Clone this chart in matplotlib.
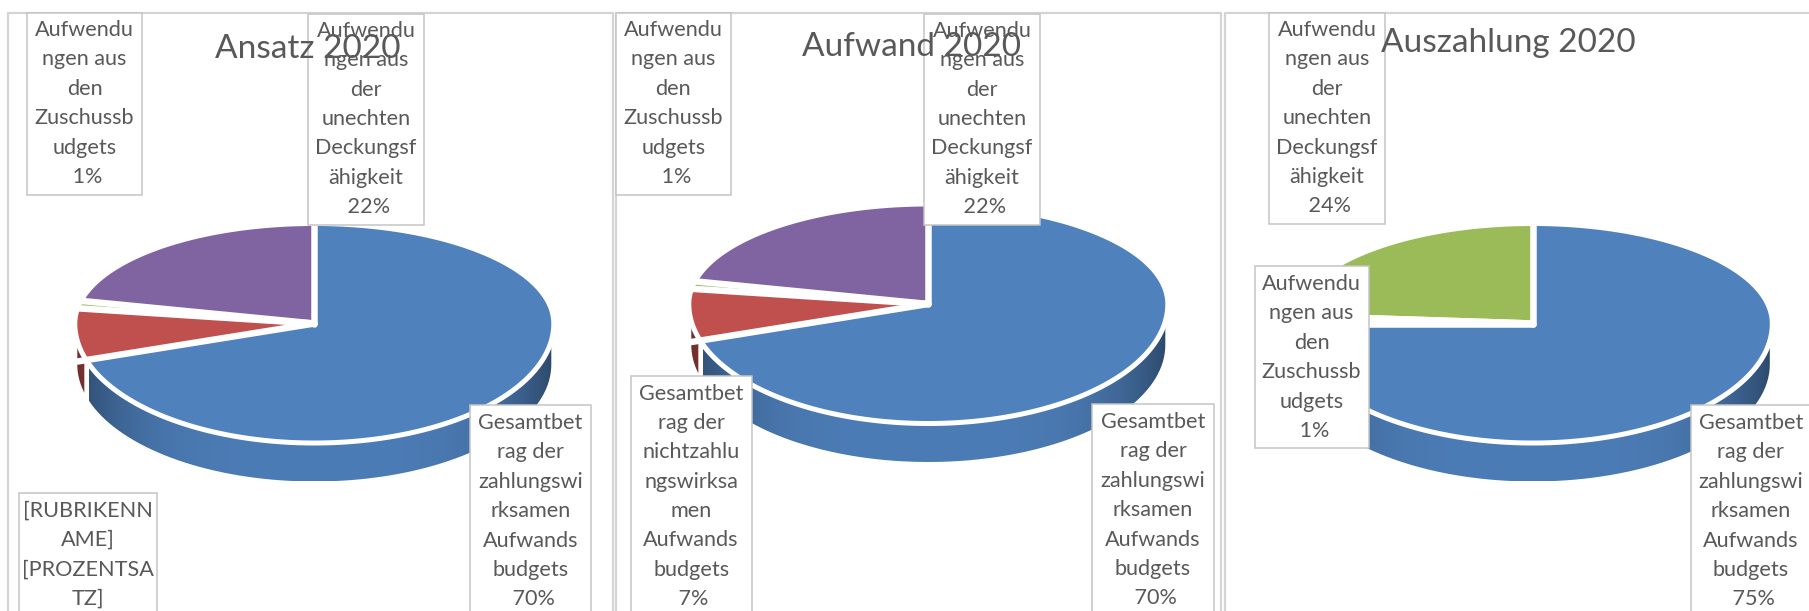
import numpy as np
import matplotlib
matplotlib.use("Agg")
import matplotlib.pyplot as plt
from matplotlib.patches import Polygon, Rectangle

plt.rcParams['font.family'] = ['Lato', 'DejaVu Sans']

titles = ['Ansatz 2020', 'Aufwand 2020', 'Auszahlung 2020']

ansatz_values = [70, 7, 1, 22]
aufwand_values = [70, 7, 1, 22]
auszahlung_values = [75, 1, 0, 24]
slice_colors = ['#4f81bd', '#c0504d', '#9bbb59', '#8064a2']
auszahlung_colors = ['#4f81bd', '#c0504d', '#8064a2', '#9bbb59']

label_zuschuss = ['Aufwendu', 'ngen aus', 'den', 'Zuschussb', 'udgets']
label_unecht = ['Aufwendu', 'ngen aus', 'der', 'unechten', 'Deckungsf', 'ähigkeit']
label_gesamt = ['Gesamtbet', 'rag der', 'zahlungswi', 'rksamen', 'Aufwands', 'budgets']
label_nicht = ['Gesamtbet', 'rag der', 'nichtzahlu', 'ngswirksa', 'men', 'Aufwands', 'budgets']
label_raw = ['[RUBRIKENN', 'AME]', '[PROZENTSA', 'TZ]']

# pixel layout of each panel
frames = [(8, 613), (616, 1221), (1224.5, 1830)]
apexes = [(314.3, 323.5), (928.3, 304), (1532.8, 323.5)]
title_pos = [(308, 49.5), (911, 46.8), (1508, 43)]

# box: left, right, top, bottom, first text line centre, lines, percent
boxes = [
    [(27.3, 141.6, 12.5, 195, 28, label_zuschuss, '1%'),
     (308, 424, 13.6, 225, 28.8, label_unecht, '22%'),
     (470, 591, 405, 640, 421, label_gesamt, '70%'),
     (19.4, 157, 493, 640, 508.6, label_raw, None)],
    [(616, 730.6, 12.5, 195, 28, label_zuschuss, '1%'),
     (924, 1040, 13.6, 225, 28.8, label_unecht, '22%'),
     (1092, 1214, 404, 640, 420, label_gesamt, '70%'),
     (630.6, 751.6, 376, 640, 391.5, label_nicht, '7%')],
    [(1254.7, 1368.5, 266, 448, 282, label_zuschuss, '1%'),
     (1269, 1385, 12.5, 224, 28, label_unecht, '24%'),
     (1690.5, 1811, 405, 640, 421, label_gesamt, '75%')],
]

RX = 237
RY_TOP = 97.5
RY_BOT = 117
DEPTH = 41
GAP = 6.5
WARP = np.radians(6.7)  # perspective squeeze of the far half
PX = 0.72
text_color = '#595959'


def rim(cx, cy, theta):
    theta = np.where(np.cos(theta) > 0, theta - WARP * np.sin(2 * theta), theta)
    c = np.cos(theta)
    ry = np.where(c > 0, RY_TOP, RY_BOT)
    return cx + RX * np.sin(theta), cy - ry * c


def draw_wall(ax, cx, cy, a, b, color):
    t = np.linspace(a, b, 80)
    x, y = rim(cx, cy, t)
    pts = np.r_[np.c_[x, y], np.c_[x[::-1], y[::-1] + DEPTH]]
    poly = Polygon(pts, closed=True, fc='none', ec='none', zorder=1)
    ax.add_patch(poly)
    base = np.array(matplotlib.colors.to_rgb(color))
    xs = np.linspace(x.min(), x.max(), 200)
    mix = (np.abs(xs - cx) / RX) ** 4
    grad = (base * 0.96)[None, :] * (1 - mix[:, None]) + (base * 0.58)[None, :] * mix[:, None]
    im = ax.imshow(grad[None, :, :], extent=(x.min(), x.max(), y.max() + DEPTH, y.min()),
                   aspect='auto', zorder=1)
    im.set_clip_path(poly)


def draw_pie(ax, cx, cy, values, colors):
    values = np.array(values, dtype=float)
    edges = np.r_[0, np.cumsum(values)] / values.sum() * 2 * np.pi

    for a, b, col in zip(edges[:-1], edges[1:], colors):
        lo = max(a, np.pi / 2)
        hi = min(b, 3 * np.pi / 2)
        if hi > lo:
            if lo > np.pi / 2:
                lo += np.radians(4)
            draw_wall(ax, cx, cy, lo, hi, col)

    t = np.linspace(0, 2 * np.pi, 400)
    x, y = rim(cx, cy, t)
    ax.add_patch(Polygon(np.c_[x, y], closed=True, fc='white', ec='white',
                         lw=10 * PX, joinstyle='round', zorder=2))

    for a, b, col in zip(edges[:-1], edges[1:], colors):
        if b <= a:
            continue
        t = np.linspace(a, b, 200)
        x, y = rim(cx, cy, t)
        pts = np.r_[[[cx, cy]], np.c_[x, y]]
        ax.add_patch(Polygon(pts, closed=True, fc=col, ec='none', zorder=3))

    # white gaps between the slices
    for a in edges[:-1]:
        x, y = rim(cx, cy, np.array([a]))
        ax.plot([cx, cx + (x[0] - cx) * 1.05], [cy, cy + (y[0] - cy) * 1.05], color='white',
                lw=GAP * PX, solid_capstyle='round', zorder=4)


fig = plt.figure(figsize=(18.09, 6.11), dpi=100)
ax = fig.add_axes([0, 0, 1, 1])

for i, title in enumerate(titles):
    left, right = frames[i]
    ax.plot([left, left, right, right], [640, 12.5, 12.5, 640], color='#d4d4d4', lw=2.2 * PX, zorder=0)
    cols = auszahlung_colors if i == 2 else slice_colors
    vals = [ansatz_values, aufwand_values, auszahlung_values][i]
    draw_pie(ax, apexes[i][0], apexes[i][1], vals, cols)

    for l, r, top, bottom, first, lines, pct in boxes[i]:
        ax.add_patch(Rectangle((l, top), r - l, bottom - top, fc='white', ec='#c4c4c4',
                               lw=1.5 * PX, zorder=5))
        txt = '\n'.join(lines + ([' ' + pct] if pct else []))
        ax.text((l + r) / 2, first - 8, txt, ha='center', va='top', ma='center',
                fontsize=15.6, color=text_color, linespacing=1.587, zorder=6)

    ax.text(title_pos[i][0], title_pos[i][1], title, ha='center', va='center',
            fontsize=24, color=text_color, zorder=7)

ax.set_xlim(0, 1809)
ax.set_ylim(611, 0)
ax.axis('off')

fig.savefig('out.png', dpi=100)
